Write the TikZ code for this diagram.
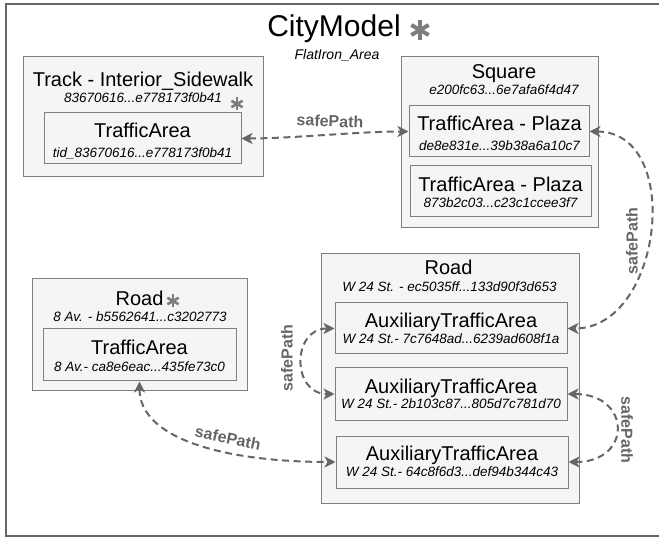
\documentclass[tikz,border=0pt]{standalone}
\usepackage{fontspec}
\setmainfont{Liberation Sans}
\usetikzlibrary{arrows.meta}

\definecolor{boxfill}{HTML}{F5F5F5}
\definecolor{boxline}{HTML}{7F7F7F}
\definecolor{linkgray}{HTML}{666666}

\tikzset{
	objbox/.style={draw=boxline, fill=boxfill, line width=1pt, inner sep=0pt},
	bigtext/.style={anchor=base, inner sep=0pt, font=\fontsize{20}{24}\selectfont},
	idtext/.style={anchor=base, inner sep=0pt, font=\fontsize{13.5}{16}\selectfont\itshape},
	safelink/.style={draw=linkgray, line width=2pt, dash pattern=on 7pt off 4.5pt,
		{Stealth[inset=3pt, length=11pt, width=11pt]}-{Stealth[inset=3pt, length=11pt, width=11pt]}},
	linklabel/.style={text=linkgray, inner sep=0pt, font=\fontsize{16}{19}\selectfont\bfseries},
	asterisk/.pic={
		\foreach \a in {90, 30, -30}
			\fill[linkgray!85, rotate=\a] (-1, -0.2) rectangle (1, 0.2);
	}
}

\begin{document}
\begin{tikzpicture}[x=1pt, y=-1pt]
	\useasboundingbox (0, 0) rectangle (659, 537);
	\draw[linkgray, line width=1.5pt] (659, 4) -| (6, 536) -- (659, 536);

	% city model
	\node[anchor=base, inner sep=0pt, font=\fontsize{30}{36}\selectfont] (city) at (334, 37) {CityModel};
	\node[idtext, font=\fontsize{14}{17}\selectfont\itshape] (area) at (337, 60) {FlatIron\_Area};
	\pic[scale=10] at (420, 30) {asterisk};

	% track
	\node[objbox, minimum width=240pt, minimum height=120pt] (track) at (143, 117) {};
	\node[bigtext] (tracktitle) at (143, 87) {Track - Interior\_Sidewalk};
	\node[idtext] (trackid) at (143, 103) {83670616...e778173f0b41};
	\pic[scale=6.5] at (237, 104) {asterisk};
	\node[objbox, minimum width=197pt, minimum height=51pt] (tra) at (142.5, 138.5) {};
	\node[bigtext] (tratitle) at (142.5, 138) {TrafficArea};
	\node[idtext] (traid) at (142.5, 158) {tid\_83670616...e778173f0b41};

	% square
	\node[objbox, minimum width=197pt, minimum height=171pt] (square) at (499.5, 142.5) {};
	\node[bigtext] (squaretitle) at (504, 79) {Square};
	\node[idtext] (squareid) at (504, 94.5) {e200fc63...6e7afa6f4d47};
	\node[objbox, minimum width=180pt, minimum height=51pt] (plazaa) at (499, 131.5) {};
	\node[bigtext] (plazaatitle) at (499.5, 131) {TrafficArea - Plaza};
	\node[idtext] (plazaaid) at (499.5, 151) {de8e831e...39b38a6a10c7};
	\node[objbox, minimum width=181pt, minimum height=51pt] (plazab) at (500.5, 191.5) {};
	\node[bigtext] (plazabtitle) at (500.5, 192) {TrafficArea - Plaza};
	\node[idtext] (plazabid) at (500.5, 207.5) {873b2c03...c23c1ccee3f7};

	% road 8 av
	\node[objbox, minimum width=215pt, minimum height=112pt] (avroad) at (139.5, 335) {};
	\node[bigtext] (avroadtitle) at (139.5, 305.5) {Road};
	\pic[scale=6.5] at (173, 301) {asterisk};
	\node[idtext] (avroadid) at (140, 322) {8 Av. - b5562641...c3202773};
	\node[objbox, minimum width=193pt, minimum height=52pt] (avta) at (139.5, 355) {};
	\node[bigtext] (avtatitle) at (139.5, 355) {TrafficArea};
	\node[idtext] (avtaid) at (139.5, 372) {8 Av.- ca8e6eac...435fe73c0};

	% road w 24 st
	\node[objbox, minimum width=258pt, minimum height=249pt] (stroad) at (450, 378.5) {};
	\node[bigtext] (stroadtitle) at (448.5, 275) {Road};
	\node[idtext] (stroadid) at (449.5, 291.5) {W 24 St. - ec5035ff...133d90f3d653};
	\node[objbox, minimum width=232pt, minimum height=51pt] (auxa) at (451, 328.5) {};
	\node[bigtext] (auxatitle) at (451, 328) {AuxiliaryTrafficArea};
	\node[idtext] (auxaid) at (451, 343.5) {W 24 St.- 7c7648ad...6239ad608f1a};
	\node[objbox, minimum width=232pt, minimum height=52pt] (auxb) at (451, 394) {};
	\node[bigtext] (auxbtitle) at (451, 393.5) {AuxiliaryTrafficArea};
	\node[idtext] (auxbid) at (451, 409) {W 24 St.- 2b103c87...805d7c781d70};
	\node[objbox, minimum width=232pt, minimum height=52pt] (auxc) at (452, 462) {};
	\node[bigtext] (auxctitle) at (452, 460) {AuxiliaryTrafficArea};
	\node[idtext] (auxcid) at (452, 476) {W 24 St.- 64c8f6d3...def94b344c43};

	% safe paths
	\draw[safelink] (tra.east) .. controls +(50, 0) and +(-50, 0) .. (plazaa.west);
	\draw[safelink] (plazaa.east) .. controls +(95, 0) and +(95, 0) .. (auxa.east);
	\draw[safelink] (auxa.west) .. controls +(-43, 0) and +(-43, 0) .. (auxb.west);
	\draw[safelink] (auxb.east) .. controls +(64, 0) and +(64, 0) .. (auxc.east);
	\draw[safelink] (avta.south) .. controls +(0, 59) and +(-106, 0) .. (auxc.west);

	\node[linklabel, rotate=-2] (laba) at (330, 121) {safePath};
	\node[linklabel, rotate=90] (labb) at (632, 241) {safePath};
	\node[linklabel, rotate=90] (labc) at (287, 358) {safePath};
	\node[linklabel, rotate=-90] (labd) at (627, 430) {safePath};
	\node[linklabel, rotate=-12] (labe) at (228, 438) {safePath};
\end{tikzpicture}
\end{document}
